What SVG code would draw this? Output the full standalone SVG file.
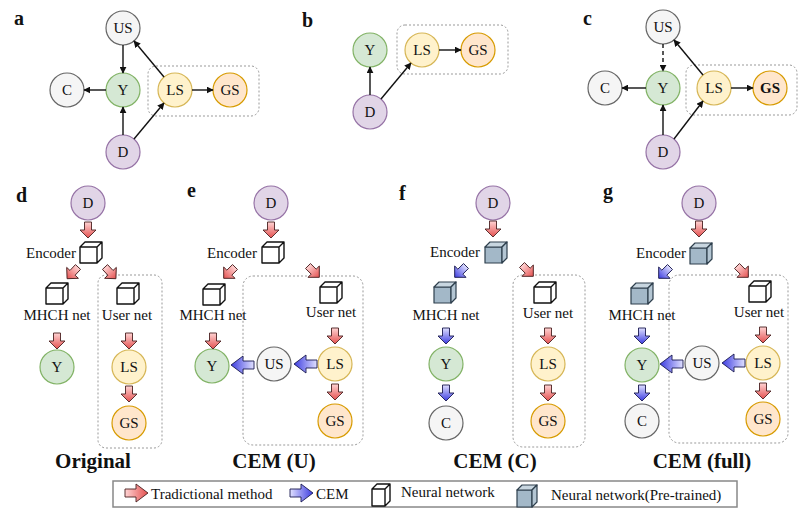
<svg xmlns="http://www.w3.org/2000/svg" xmlns:xlink="http://www.w3.org/1999/xlink" width="800" height="514" viewBox="0 0 800 514" font-family="'Liberation Serif', 'DejaVu Serif', serif">
<style>
text{font-family:'Liberation Serif','DejaVu Serif',serif;fill:#111}
.lbl{font-size:15px;text-anchor:middle}
.lt{font-size:15px}
.pl{font-size:20px;font-weight:bold}
.ttl{font-size:21px;font-weight:bold;text-anchor:middle}
.n{stroke-width:1.2}
.g{fill:#f5f5f5;stroke:#666}
.y{fill:#d5e8d4;stroke:#82b366}
.d{fill:#e1d5e7;stroke:#9673a6}
.ls{fill:#fff2cc;stroke:#d6b656}
.gs{fill:#ffe6cc;stroke:#d79b00}
.box{fill:none;stroke:#999;stroke-width:1;stroke-dasharray:2 2}
.ln{stroke:#111;stroke-width:1.4;fill:none;marker-end:url(#ah)}
.red{fill:url(#gr);stroke:#4a2020;stroke-width:0.9}
.blue{fill:url(#gb);stroke:#1a1a50;stroke-width:0.9}
.cw{fill:#fff;stroke:#111;stroke-width:1.4;stroke-linejoin:round}
.cp{stroke:#2e3f4d;stroke-width:1.2;stroke-linejoin:round}
</style>
<defs>
<marker id="ah" viewBox="0 0 10 10" refX="9" refY="5" markerWidth="7" markerHeight="7" markerUnits="userSpaceOnUse" orient="auto">
<path d="M0,0 L10,5 L0,10 Z" fill="#111"/>
</marker>
<linearGradient id="gr" x1="0" y1="0" x2="1" y2="0">
<stop offset="0" stop-color="#ffd4d4"/><stop offset="1" stop-color="#e4504f"/>
</linearGradient>
<linearGradient id="gb" x1="0" y1="0" x2="1" y2="0">
<stop offset="0" stop-color="#e0e0ff"/><stop offset="1" stop-color="#3c3ce0"/>
</linearGradient>
<path id="aS" d="M0,-3.5 H8 V-8 L16,0 L8,8 V3.5 H0 Z"/>
<path id="aL" d="M0,-4 H11 V-9 L23,0 L11,9 V4 H0 Z"/>
<g id="cw">
<path class="cw" d="M0,5 L5,0 H22 V16 L17,21 H0 Z M0,5 H17 V21 M17,5 L22,0"/>
</g>
<g id="cp">
<path class="cp" fill="#a3b8c8" d="M0,5 H17 V21 H0 Z"/>
<path class="cp" fill="#c8d6e0" d="M0,5 L5,0 H22 L17,5 Z"/>
<path class="cp" fill="#b4c6d3" d="M17,5 L22,0 V16 L17,21 Z"/>
</g>
</defs>
<rect width="800" height="514" fill="#fff"/>

<!-- Panel a -->
<g id="panel-a">
<text class="pl" x="14" y="25">a</text>
<rect class="box" x="148" y="66" width="111" height="50" rx="8"/>
<g id="a-US"><circle class="n g" cx="123" cy="28" r="17"/><text class="lbl" x="123" y="33">US</text></g>
<g id="a-C"><circle class="n g" cx="67" cy="90" r="17"/><text class="lbl" x="67" y="95">C</text></g>
<g id="a-Y"><circle class="n y" cx="123" cy="90" r="17"/><text class="lbl" x="123" y="95">Y</text></g>
<g id="a-LS"><circle class="n ls" cx="175" cy="90" r="17"/><text class="lbl" x="175" y="95">LS</text></g>
<g id="a-GS"><circle class="n gs" cx="230" cy="90" r="17"/><text class="lbl" x="230" y="95">GS</text></g>
<g id="a-D"><circle class="n d" cx="123" cy="152" r="17"/><text class="lbl" x="123" y="157">D</text></g>
<g id="a-edges">
<line class="ln" x1="123" y1="45" x2="123" y2="73"/>
<line class="ln" x1="106" y1="90" x2="84" y2="90"/>
<line class="ln" x1="164" y1="77" x2="134" y2="41"/>
<line class="ln" x1="192" y1="90" x2="213" y2="90"/>
<line class="ln" x1="123" y1="135" x2="123" y2="107"/>
<line class="ln" x1="134" y1="139" x2="164" y2="103"/>
</g>
</g>

<!-- Panel b -->
<g id="panel-b">
<text class="pl" x="302" y="27">b</text>
<rect class="box" x="397" y="25" width="111" height="49" rx="8"/>
<g id="b-Y"><circle class="n y" cx="370" cy="50" r="17"/><text class="lbl" x="370" y="55">Y</text></g>
<g id="b-LS"><circle class="n ls" cx="422" cy="50" r="17"/><text class="lbl" x="422" y="55">LS</text></g>
<g id="b-GS"><circle class="n gs" cx="478" cy="50" r="17"/><text class="lbl" x="478" y="55">GS</text></g>
<g id="b-D"><circle class="n d" cx="370" cy="112" r="17"/><text class="lbl" x="370" y="117">D</text></g>
<g id="b-edges">
<line class="ln" x1="370" y1="95" x2="370" y2="67"/>
<line class="ln" x1="381" y1="99" x2="411" y2="63"/>
<line class="ln" x1="439" y1="50" x2="461" y2="50"/>
</g>
</g>

<!-- Panel c -->
<g id="panel-c">
<text class="pl" x="583" y="25">c</text>
<rect class="box" x="686" y="65" width="111" height="50" rx="8"/>
<g id="c-US"><circle class="n g" cx="663" cy="27" r="17"/><text class="lbl" x="663" y="32">US</text></g>
<g id="c-C"><circle class="n g" cx="605" cy="88" r="17"/><text class="lbl" x="605" y="93">C</text></g>
<g id="c-Y"><circle class="n y" cx="663" cy="88" r="17"/><text class="lbl" x="663" y="93">Y</text></g>
<g id="c-LS"><circle class="n ls" cx="714" cy="88" r="17"/><text class="lbl" x="714" y="93">LS</text></g>
<g id="c-GS"><circle class="n gs" cx="770" cy="88" r="17"/><text class="lbl" x="770" y="93" font-weight="bold">GS</text></g>
<g id="c-D"><circle class="n d" cx="663" cy="152" r="17"/><text class="lbl" x="663" y="157">D</text></g>
<g id="c-edges">
<line class="ln" x1="663" y1="44" x2="663" y2="71" stroke-dasharray="4 3"/>
<line class="ln" x1="646" y1="88" x2="622" y2="88"/>
<line class="ln" x1="703" y1="75" x2="674" y2="40"/>
<line class="ln" x1="731" y1="88" x2="753" y2="88"/>
<line class="ln" x1="663" y1="135" x2="663" y2="105"/>
<line class="ln" x1="674" y1="139" x2="703" y2="101"/>
</g>
</g>

<!-- Panel d -->
<g id="panel-d">
<text class="pl" x="16" y="202">d</text>
<rect class="box" x="98" y="275" width="64" height="173" rx="8"/>
<g id="d-D"><circle class="n d" cx="88" cy="203" r="17"/><text class="lbl" x="88" y="208">D</text></g>
<g id="d-enc"><use href="#cw" transform="translate(80,242)"/><text class="lt" x="76" y="258" text-anchor="end">Encoder</text></g>
<g id="d-mhch"><use href="#cw" transform="translate(46,283)"/><text class="lbl" x="57" y="320">MHCH net</text></g>
<g id="d-user"><use href="#cw" transform="translate(117,283)"/><text class="lbl" x="127" y="320">User net</text></g>
<g id="d-Y"><circle class="n y" cx="57" cy="367" r="17"/><text class="lbl" x="57" y="372">Y</text></g>
<g id="d-LS"><circle class="n ls" cx="129" cy="367" r="17"/><text class="lbl" x="129" y="372">LS</text></g>
<g id="d-GS"><circle class="n gs" cx="129" cy="423" r="17"/><text class="lbl" x="129" y="428">GS</text></g>
<g id="d-edges">
<use href="#aS" class="red" transform="translate(88,222) rotate(90)"/>
<use href="#aS" class="red" transform="translate(78,267) rotate(133)"/>
<use href="#aS" class="red" transform="translate(105,267) rotate(47)"/>
<use href="#aS" class="red" transform="translate(57,333) rotate(90)"/>
<use href="#aS" class="red" transform="translate(129,333) rotate(90)"/>
<use href="#aS" class="red" transform="translate(129,386) rotate(90)"/>
</g>
<text class="ttl" x="93" y="468">Original</text>
</g>

<!-- Panel e -->
<g id="panel-e">
<text class="pl" x="187" y="197">e</text>
<rect class="box" x="243" y="276" width="120" height="169" rx="10"/>
<g id="e-D"><circle class="n d" cx="271" cy="203" r="17"/><text class="lbl" x="271" y="208">D</text></g>
<g id="e-enc"><use href="#cw" transform="translate(262,242)"/><text class="lt" x="257" y="258" text-anchor="end">Encoder</text></g>
<g id="e-mhch"><use href="#cw" transform="translate(203,284)"/><text class="lbl" x="213" y="320">MHCH net</text></g>
<g id="e-user"><use href="#cw" transform="translate(320,282)"/><text class="lbl" x="331" y="317">User net</text></g>
<g id="e-Y"><circle class="n y" cx="212" cy="366" r="17"/><text class="lbl" x="212" y="371">Y</text></g>
<g id="e-US"><circle class="n g" cx="274" cy="364" r="17"/><text class="lbl" x="274" y="369">US</text></g>
<g id="e-LS"><circle class="n ls" cx="335" cy="364" r="17"/><text class="lbl" x="335" y="369">LS</text></g>
<g id="e-GS"><circle class="n gs" cx="335" cy="421" r="17"/><text class="lbl" x="335" y="426">GS</text></g>
<g id="e-edges">
<use href="#aS" class="red" transform="translate(271,222) rotate(90)"/>
<use href="#aS" class="red" transform="translate(235,267) rotate(135)"/>
<use href="#aS" class="red" transform="translate(308,266) rotate(45)"/>
<use href="#aS" class="red" transform="translate(213,333) rotate(90)"/>
<use href="#aS" class="red" transform="translate(335,328) rotate(90)"/>
<use href="#aS" class="red" transform="translate(335,384) rotate(90)"/>
<use href="#aL" class="blue" transform="translate(317,364) rotate(180)"/>
<use href="#aL" class="blue" transform="translate(254,365) rotate(180)"/>
</g>
<text class="ttl" x="274" y="468">CEM (U)</text>
</g>

<!-- Panel f -->
<g id="panel-f">
<text class="pl" x="399" y="200">f</text>
<rect class="box" x="513" y="275" width="72" height="172" rx="10"/>
<g id="f-D"><circle class="n d" cx="493" cy="203" r="17"/><text class="lbl" x="493" y="208">D</text></g>
<g id="f-enc"><use href="#cp" transform="translate(485,242)"/><text class="lt" x="480" y="257" text-anchor="end">Encoder</text></g>
<g id="f-mhch"><use href="#cp" transform="translate(434,282)"/><text class="lbl" x="446" y="320">MHCH net</text></g>
<g id="f-user"><use href="#cw" transform="translate(534,282)"/><text class="lbl" x="548" y="318">User net</text></g>
<g id="f-Y"><circle class="n y" cx="446" cy="364" r="17"/><text class="lbl" x="446" y="369">Y</text></g>
<g id="f-C"><circle class="n g" cx="446" cy="423" r="17"/><text class="lbl" x="446" y="428">C</text></g>
<g id="f-LS"><circle class="n ls" cx="548" cy="364" r="17"/><text class="lbl" x="548" y="369">LS</text></g>
<g id="f-GS"><circle class="n gs" cx="548" cy="421" r="17"/><text class="lbl" x="548" y="426">GS</text></g>
<g id="f-edges">
<use href="#aS" class="red" transform="translate(493,221) rotate(90)"/>
<use href="#aS" class="blue" transform="translate(466,266) rotate(135)"/>
<use href="#aS" class="red" transform="translate(522,265) rotate(45)"/>
<use href="#aS" class="blue" transform="translate(446,328) rotate(90)"/>
<use href="#aS" class="red" transform="translate(548,328) rotate(90)"/>
<use href="#aS" class="blue" transform="translate(446,385) rotate(90)"/>
<use href="#aS" class="red" transform="translate(548,385) rotate(90)"/>
</g>
<text class="ttl" x="495" y="468">CEM (C)</text>
</g>

<!-- Panel g -->
<g id="panel-g">
<text class="pl" x="603" y="198">g</text>
<rect class="box" x="669" y="275" width="119" height="168" rx="10"/>
<g id="g-D"><circle class="n d" cx="699" cy="203" r="17"/><text class="lbl" x="699" y="208">D</text></g>
<g id="g-enc"><use href="#cp" transform="translate(690,243)"/><text class="lt" x="686" y="258" text-anchor="end">Encoder</text></g>
<g id="g-mhch"><use href="#cp" transform="translate(631,283)"/><text class="lbl" x="642" y="320">MHCH net</text></g>
<g id="g-user"><use href="#cw" transform="translate(749,281)"/><text class="lbl" x="759" y="317">User net</text></g>
<g id="g-Y"><circle class="n y" cx="642" cy="365" r="17"/><text class="lbl" x="642" y="370">Y</text></g>
<g id="g-C"><circle class="n g" cx="642" cy="421" r="17"/><text class="lbl" x="642" y="426">C</text></g>
<g id="g-US"><circle class="n g" cx="702" cy="363" r="17"/><text class="lbl" x="702" y="368">US</text></g>
<g id="g-LS"><circle class="n ls" cx="763" cy="363" r="17"/><text class="lbl" x="763" y="368">LS</text></g>
<g id="g-GS"><circle class="n gs" cx="763" cy="419" r="17"/><text class="lbl" x="763" y="424">GS</text></g>
<g id="g-edges">
<use href="#aS" class="red" transform="translate(699,221) rotate(90)"/>
<use href="#aS" class="blue" transform="translate(670,267) rotate(135)"/>
<use href="#aS" class="red" transform="translate(737,266) rotate(45)"/>
<use href="#aS" class="blue" transform="translate(642,328) rotate(90)"/>
<use href="#aS" class="red" transform="translate(763,327) rotate(90)"/>
<use href="#aS" class="blue" transform="translate(642,385) rotate(90)"/>
<use href="#aS" class="red" transform="translate(763,383) rotate(90)"/>
<use href="#aL" class="blue" transform="translate(745,363) rotate(180)"/>
<use href="#aL" class="blue" transform="translate(683,364) rotate(180)"/>
</g>
<text class="ttl" x="702" y="468">CEM (full)</text>
</g>

<!-- Legend -->
<g id="legend">
<rect x="113" y="481" width="624" height="26" fill="#fff" stroke="#888" stroke-width="1.5"/>
<use href="#aL" class="red" transform="translate(125,493)"/>
<text class="lt" x="151" y="499">Tradictional method</text>
<use href="#aL" class="blue" transform="translate(290,493)"/>
<text class="lt" x="316" y="499">CEM</text>
<path class="cw" d="M372,489 L377,484 H390 V501 L385,506 H372 Z M372,489 H385 V506 M385,489 L390,484"/>
<text class="lt" x="401" y="497">Neural network</text>
<path class="cp" fill="#a3b8c8" d="M517,490 H532 V507 H517 Z"/>
<path class="cp" fill="#c8d6e0" d="M517,490 L522,485 H537 L532,490 Z"/>
<path class="cp" fill="#b4c6d3" d="M532,490 L537,485 V502 L532,507 Z"/>
<text class="lt" x="551" y="500">Neural network(Pre-trained)</text>
</g>
</svg>
